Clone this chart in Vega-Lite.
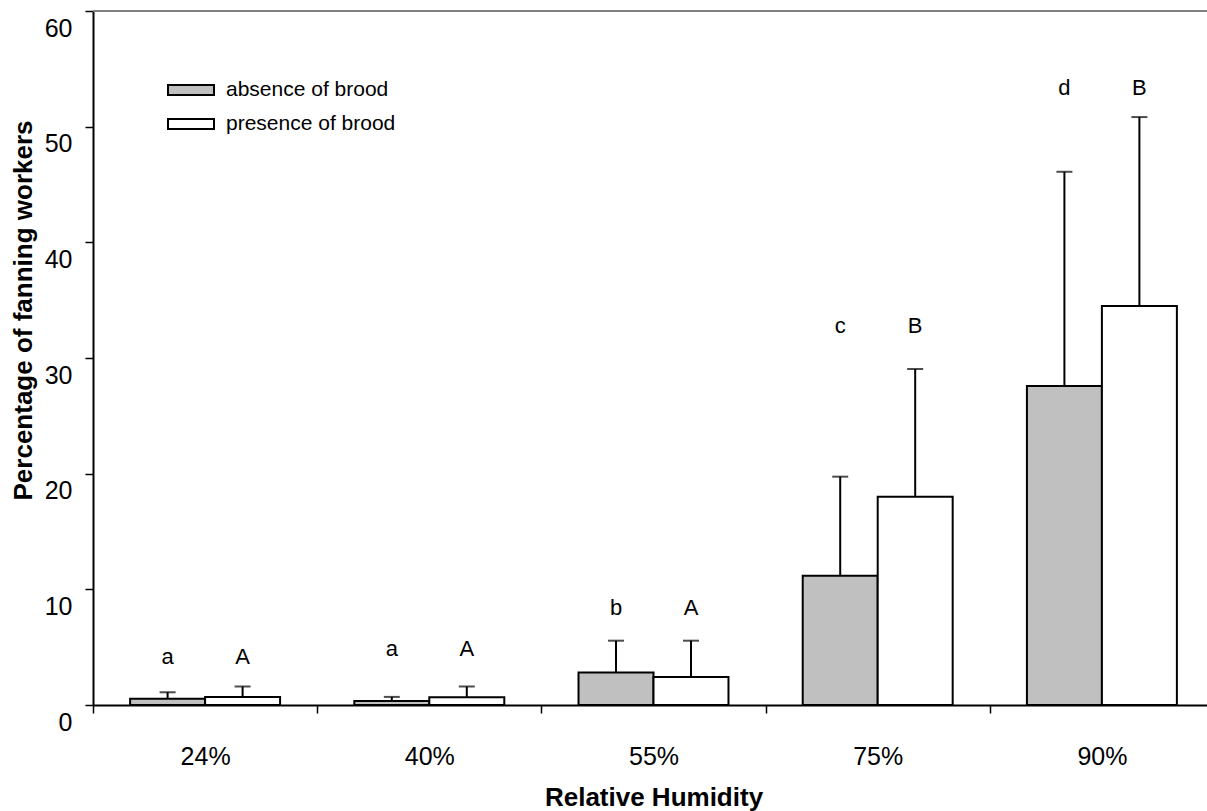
{
  "$schema": "https://vega.github.io/schema/vega-lite/v6.json",
  "autosize": {"type": "none"},
  "width": 1114,
  "height": 694,
  "padding": {"left": 93, "top": 11, "right": 0, "bottom": 106},
  "background": "white",
  "config": {
    "font": "Liberation Sans",
    "view": {"stroke": null},
    "axis": {"grid": false, "labelColor": "black", "titleColor": "black", "domainColor": "black", "tickColor": "black"}
  },
  "data": {
    "values": [
      {"humidity": "24%", "group": "absence of brood", "mean": 0.55, "upper": 1.1, "letter": "a", "letterY": 4.18},
      {"humidity": "24%", "group": "presence of brood", "mean": 0.7, "upper": 1.6, "letter": "A", "letterY": 4.18},
      {"humidity": "40%", "group": "absence of brood", "mean": 0.35, "upper": 0.7, "letter": "a", "letterY": 4.84},
      {"humidity": "40%", "group": "presence of brood", "mean": 0.67, "upper": 1.6, "letter": "A", "letterY": 4.84},
      {"humidity": "55%", "group": "absence of brood", "mean": 2.8, "upper": 5.56, "letter": "b", "letterY": 8.35},
      {"humidity": "55%", "group": "presence of brood", "mean": 2.42, "upper": 5.56, "letter": "A", "letterY": 8.35},
      {"humidity": "75%", "group": "absence of brood", "mean": 11.18, "upper": 19.74, "letter": "c", "letterY": 32.8},
      {"humidity": "75%", "group": "presence of brood", "mean": 18.01, "upper": 29.05, "letter": "B", "letterY": 32.8},
      {"humidity": "90%", "group": "absence of brood", "mean": 27.58, "upper": 46.1, "letter": "d", "letterY": 53.3},
      {"humidity": "90%", "group": "presence of brood", "mean": 34.5, "upper": 50.83, "letter": "B", "letterY": 53.3}
    ]
  },
  "layer": [
    {
      "mark": {"type": "rule", "color": "#808080", "strokeWidth": 1.5},
      "encoding": {"y": {"datum": 60, "type": "quantitative"}}
    },
    {
      "mark": {"type": "rule", "color": "black", "strokeWidth": 2},
      "encoding": {
        "x": {"field": "humidity", "type": "nominal", "sort": ["24%", "40%", "55%", "75%", "90%"]},
        "xOffset": {"field": "group", "type": "nominal", "sort": ["absence of brood", "presence of brood"]},
        "y": {"field": "mean", "type": "quantitative"},
        "y2": {"field": "upper"}
      }
    },
    {
      "mark": {"type": "tick", "orient": "horizontal", "color": "black", "size": 16, "thickness": 2},
      "encoding": {
        "x": {"field": "humidity", "type": "nominal", "sort": ["24%", "40%", "55%", "75%", "90%"]},
        "xOffset": {"field": "group", "type": "nominal", "sort": ["absence of brood", "presence of brood"]},
        "y": {"field": "upper", "type": "quantitative"}
      }
    },
    {
      "mark": {"type": "bar", "stroke": "black", "strokeWidth": 2, "opacity": 1},
      "encoding": {
        "x": {
          "field": "humidity", "type": "nominal", "sort": ["24%", "40%", "55%", "75%", "90%"],
          "scale": {"range": [0, 1121], "paddingInner": 0, "paddingOuter": 0},
          "axis": {
            "title": "Relative Humidity", "titleFontSize": 26, "titleFontWeight": "bold",
            "titleBaseline": "alphabetic", "titleY": 100,
            "labelAngle": 0, "labelAlign": "center", "labelFontSize": 25, "labelBaseline": "middle", "labelPadding": 43,
            "tickBand": "extent", "tickSize": 8, "tickWidth": 1.5, "domainWidth": 2
          }
        },
        "xOffset": {
          "field": "group", "type": "nominal", "sort": ["absence of brood", "presence of brood"],
          "scale": {"paddingInner": 0, "paddingOuter": 0.495}
        },
        "y": {
          "field": "mean", "type": "quantitative",
          "scale": {"domain": [0, 60], "nice": false},
          "axis": {
            "values": [0, 10, 20, 30, 40, 50, 60],
            "title": "Percentage of fanning workers", "titleFontSize": 26, "titleFontWeight": "bold",
            "titleAngle": 270, "titleAlign": "center", "titleBaseline": "middle",
            "titleX": -70, "titleY": 299,
            "labelFontSize": 25, "labelOffset": 17, "labelPadding": 13,
            "tickSize": 8, "tickWidth": 1.5, "domainWidth": 2
          }
        },
        "fill": {
          "field": "group", "type": "nominal",
          "scale": {"domain": ["absence of brood", "presence of brood"], "range": ["#C0C0C0", "#FFFFFF"]},
          "legend": {
            "title": null, "orient": "none", "legendX": 87, "legendY": 68, "padding": 0,
            "symbolType": "M-2.3,-0.5H2.3V0.5H-2.3Z", "symbolSize": 400,
            "symbolStrokeColor": "black", "symbolStrokeWidth": 2, "symbolOpacity": 1,
            "labelFontSize": 21, "labelColor": "black", "labelOffset": 24, "labelBaseline": "middle",
            "labelLimit": 0, "rowPadding": 13
          }
        }
      }
    },
    {
      "mark": {"type": "text", "fontSize": 22, "color": "black", "baseline": "middle"},
      "encoding": {
        "x": {"field": "humidity", "type": "nominal", "sort": ["24%", "40%", "55%", "75%", "90%"]},
        "xOffset": {"field": "group", "type": "nominal", "sort": ["absence of brood", "presence of brood"]},
        "y": {"field": "letterY", "type": "quantitative"},
        "text": {"field": "letter"}
      }
    }
  ]
}
